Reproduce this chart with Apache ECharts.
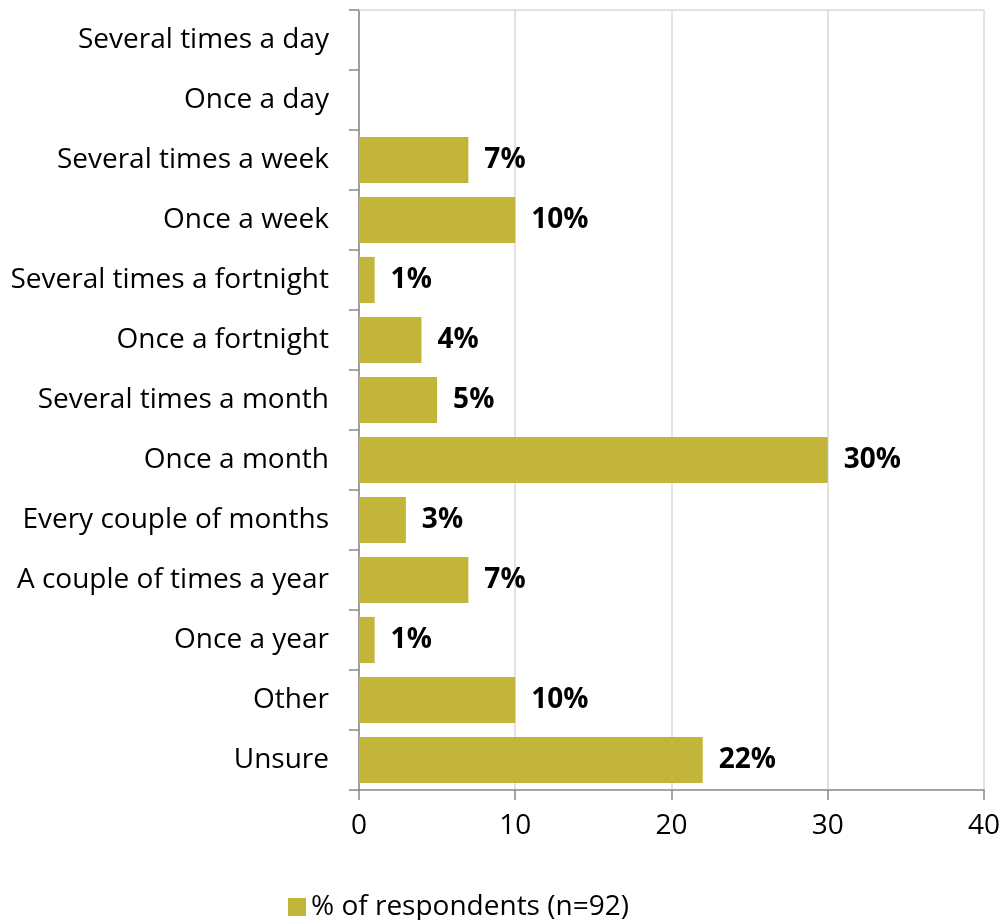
<!DOCTYPE html>
<html>
<head>
<meta charset="utf-8">
<script src="https://cdn.jsdelivr.net/npm/echarts@6/dist/echarts.min.js"></script>
<style>
  html, body { margin: 0; padding: 0; background: #ffffff; }
  #chart { width: 1003px; height: 920px; }
</style>
</head>
<body>
<div id="chart"></div>
<script>
// Frequency categories, listed from top to bottom
const categories = [
  'Several times a day',
  'Once a day',
  'Several times a week',
  'Once a week',
  'Several times a fortnight',
  'Once a fortnight',
  'Several times a month',
  'Once a month',
  'Every couple of months',
  'A couple of times a year',
  'Once a year',
  'Other',
  'Unsure'
];
// Share of respondents per category (%)
const respondents = [0, 0, 7, 10, 1, 4, 5, 30, 3, 7, 1, 10, 22];
const seriesName = '% of respondents (n=92)';
const xTicks = [0, 10, 20, 30, 40];

const FONT = 'Open Sans';
const chart = echarts.init(document.getElementById('chart'), null, { renderer: 'canvas' });

chart.setOption({
  animation: false,
  backgroundColor: '#ffffff',
  grid: { left: 359, right: 18, top: 10, bottom: 130, containLabel: false },
  legend: {
    data: [seriesName],
    top: 888,
    left: 283,
    itemWidth: 18,
    itemHeight: 18,
    icon: 'rect',
    itemGap: 8,
    textStyle: { fontFamily: FONT, fontSize: 28, color: '#000000' }
  },
  xAxis: [
    {
      type: 'value',
      min: xTicks[0],
      max: xTicks[xTicks.length - 1],
      interval: 10,
      position: 'bottom',
      axisLine: { show: true, lineStyle: { color: '#888888', width: 1.5 } },
      axisTick: { show: true, length: 10, lineStyle: { color: '#888888', width: 1.5 } },
      axisLabel: { margin: 22, fontFamily: FONT, fontSize: 28, color: '#000000' },
      splitLine: { show: true, lineStyle: { color: '#d9d9d9', width: 1.5 } }
    },
    {
      // thin frame along the top of the plot
      type: 'value',
      min: xTicks[0],
      max: xTicks[xTicks.length - 1],
      position: 'top',
      axisLine: { show: true, lineStyle: { color: '#d9d9d9', width: 1.5 } },
      axisTick: { show: false },
      axisLabel: { show: false },
      splitLine: { show: false }
    }
  ],
  yAxis: {
    type: 'category',
    data: categories,
    inverse: true,
    axisLine: { show: true, lineStyle: { color: '#888888', width: 1.5 } },
    axisTick: { show: true, length: 10, lineStyle: { color: '#888888', width: 1.5 } },
    axisLabel: { margin: 30, fontFamily: FONT, fontSize: 28, color: '#000000' }
  },
  series: [{
    name: seriesName,
    type: 'bar',
    data: respondents,
    barCategoryGap: '23%',
    itemStyle: { color: '#c3b43a' },
    label: {
      show: true,
      position: 'right',
      distance: 16,
      fontFamily: FONT,
      fontSize: 28,
      fontWeight: 'bold',
      color: '#000000',
      formatter: p => (p.value > 0 ? p.value + '%' : '')
    }
  }]
});
</script>
</body>
</html>
